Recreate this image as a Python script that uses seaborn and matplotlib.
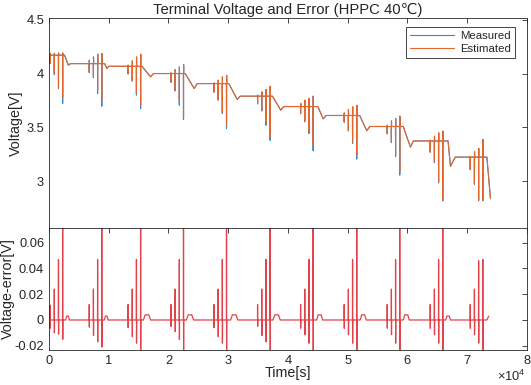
import matplotlib
matplotlib.use("Agg")
import matplotlib.pyplot as plt
import seaborn as sns
from pandas import DataFrame
from matplotlib.ticker import FuncFormatter

# ---- data (time in units of 1e4 s) ----
group_start = [0.017, 0.672, 1.322, 2.040, 2.760, 3.490, 4.210, 4.940, 5.660, 6.380, 7.050]
pulse_offset = [0.0, 0.07, 0.14, 0.21]

rest_v = [4.170, 4.092, 4.067, 4.000, 3.907, 3.790, 3.694, 3.611, 3.509, 3.375, 3.225]
top_v = [
    [4.185, 4.188, 4.190, 4.190],
    [4.123, 4.154, 4.179, 4.185],
    [4.077, 4.117, 4.154, 4.179],
    [4.006, 4.037, 4.061, 4.083],
    [3.913, 3.938, 3.969, 3.984],
    [3.800, 3.830, 3.852, 3.882],
    [3.722, 3.753, 3.769, 3.790],
    [3.635, 3.667, 3.691, 3.706],
    [3.521, 3.561, 3.583, 3.605],
    [3.382, 3.419, 3.450, 3.466],
    [3.228, 3.274, 3.306, 3.389],
]
est_bottom = [
    [4.093, 4.000, 3.876, 3.783],
    [4.015, 3.969, 3.845, 3.753],
    [4.000, 3.938, 3.815, 3.706],
    [3.922, 3.845, 3.737, 3.598],
    [3.830, 3.760, 3.645, 3.520],
    [3.722, 3.660, 3.537, 3.413],
    [3.630, 3.561, 3.459, 3.336],
    [3.552, 3.475, 3.367, 3.244],
    [3.444, 3.367, 3.244, 3.089],
    [3.274, 3.181, 2.996, 2.827],
    [3.111, 2.981, 2.827, 2.827],
]
meas_bottom = [
    [4.090, 3.990, 3.861, 3.722],
    [4.010, 3.960, 3.815, 3.697],
    [3.995, 3.930, 3.800, 3.676],
    [3.918, 3.838, 3.706, 3.574],
    [3.826, 3.752, 3.630, 3.490],
    [3.718, 3.652, 3.520, 3.380],
    [3.626, 3.553, 3.444, 3.283],
    [3.548, 3.467, 3.352, 3.207],
    [3.440, 3.359, 3.228, 3.058],
    [3.270, 3.173, 2.987, 2.820],
    [3.107, 2.973, 2.820, 2.820],
]
drop_start = [0.260, 0.930, 1.556, 2.280, 3.010, 3.740, 4.500, 5.200, 5.930, 6.680, 7.330]
dip_t = [0.325, 0.970, 1.700, 2.430, 3.150, 3.880, 4.590, 5.320, 6.050, 6.720, 7.390]
dip_v = [4.077, 4.046, 3.970, 3.861, 3.760, 3.660, 3.580, 3.470, 3.318, 3.139, 2.840]
recover_t = [0.360, 1.000, 1.750, 2.480, 3.200, 3.930, 4.640, 5.370, 6.100, 6.800, 7.390]

err_pos = [
    [0.0115, 0.024, 0.047, 0.090],
    [0.0120, 0.024, 0.047, 0.090],
    [0.0120, 0.024, 0.047, 0.090],
    [0.0120, 0.024, 0.047, 0.090],
    [0.0120, 0.024, 0.047, 0.090],
    [0.0120, 0.024, 0.047, 0.090],
    [0.0120, 0.024, 0.047, 0.090],
    [0.0120, 0.024, 0.047, 0.090],
    [0.0120, 0.024, 0.047, 0.090],
    [0.0120, 0.024, 0.047, 0.090],
    [0.0120, 0.024, 0.046, 0.047],
]
err_neg = [
    [-0.0064, -0.010, -0.011, -0.015],
    [-0.0056, -0.012, -0.017, -0.021],
    [-0.0060, -0.013, -0.018, -0.030],
    [-0.0050, -0.009, -0.015, -0.030],
    [-0.0060, -0.013, -0.018, -0.030],
    [-0.0050, -0.012, -0.017, -0.030],
    [-0.0064, -0.0115, -0.018, -0.030],
    [-0.0064, -0.0115, -0.018, -0.030],
    [-0.0064, -0.0115, -0.018, -0.030],
    [-0.0064, -0.0115, -0.018, -0.030],
    [-0.0064, -0.0115, -0.018, -0.030],
]
bump_t = [0.310, 0.958, 1.640, 2.360, 3.100, 3.810, 4.530, 5.260, 5.980, 6.680]
bump_h = [0.003, 0.003, 0.004, 0.004, 0.004, 0.004, 0.004, 0.004, 0.004, 0.003]
bump_w = [0.06, 0.06, 0.12, 0.12, 0.12, 0.12, 0.10, 0.10, 0.10, 0.08]
end_t = 7.36
end_err = 0.003

EPS = 0.0015  # pulse width on the plot (about 15 s)
SCALE = 1e4


def build_voltage(bottoms):
    t, v = [0.0], [rest_v[0]]
    for i, t0 in enumerate(group_start):
        base = rest_v[i]
        for j, off in enumerate(pulse_offset):
            tj = t0 + off
            t += [tj, tj + EPS, tj + 2 * EPS, tj + 3 * EPS]
            v += [base, bottoms[i][j], top_v[i][j], base]
        t += [drop_start[i], dip_t[i]]
        v += [base, dip_v[i]]
        if i + 1 < len(group_start):
            t.append(recover_t[i])
            v.append(rest_v[i + 1])
    return [x * SCALE for x in t], v


def build_error():
    t, e = [0.0], [0.0]
    for i, t0 in enumerate(group_start):
        for j, off in enumerate(pulse_offset):
            tj = t0 + off
            t += [tj, tj + EPS, tj + 2 * EPS, tj + 3 * EPS]
            e += [0.0, err_pos[i][j], err_neg[i][j], 0.0]
        if i < len(bump_t):
            w = bump_w[i]
            t += [bump_t[i] - w / 2, bump_t[i] - w / 4, bump_t[i] + w / 4, bump_t[i] + w / 2]
            e += [0.0, bump_h[i], bump_h[i], 0.0]
    t += [drop_start[-1], end_t]
    e += [0.0, end_err]
    return [x * SCALE for x in t], e


tm, vm = build_voltage(meas_bottom)
te, ve = build_voltage(est_bottom)
tr, er = build_error()
volt = DataFrame({"t": tm + te, "v": vm + ve,
                  "series": ["Measured"] * len(tm) + ["Estimated"] * len(te)})
err = DataFrame({"t": tr, "e": er})

sns.set_style("white")
plt.rcParams["font.family"] = ["Liberation Sans", "DejaVu Sans"]
plt.rcParams["axes.unicode_minus"] = False
plt.rcParams["mathtext.fontset"] = "custom"
plt.rcParams["mathtext.rm"] = "Liberation Sans"

fig = plt.figure(figsize=(5.31, 3.85), dpi=100)
ax1 = fig.add_axes([0.0923, 0.4078, 0.900, 0.5455])
ax2 = fig.add_axes([0.0923, 0.0909, 0.900, 0.3169])

sns.lineplot(data=volt, x="t", y="v", hue="series", sort=False, estimator=None,
             palette={"Measured": "#2f88d0", "Estimated": "#e2672f"},
             linewidth=0.8, ax=ax1)
sns.lineplot(data=err, x="t", y="e", sort=False, estimator=None,
             color="#e4424b", linewidth=0.9, ax=ax2)

fmt = FuncFormatter(lambda x, pos: f"{x:g}")
for ax in (ax1, ax2):
    ax.set_xlim(0, 8e4)
    ax.set_xticks([i * 1e4 for i in range(9)])
    ax.xaxis.set_major_formatter(FuncFormatter(lambda x, pos: f"{x / SCALE:g}"))
    ax.tick_params(direction="in", length=3.5, width=0.6, colors="#262626",
                   labelsize=9.3, top=True, right=True, pad=3.5)
    for s in ax.spines.values():
        s.set_color("#262626")
        s.set_linewidth(0.6)
    ax.yaxis.set_major_formatter(fmt)

ax1.set_ylim(2.568, 4.515)
ax1.set_yticks([3, 3.5, 4, 4.5])
ax1.tick_params(labelbottom=False)
ax1.set_xlabel("")
ax1.set_ylabel("Voltage[V]", fontsize=10.3)
ax1.yaxis.set_label_coords(-0.054, 0.5)
ax1.set_title("Terminal Voltage and Error (HPPC 40\u2103)", fontsize=10.7, pad=3)
leg = ax1.legend(loc="upper right", bbox_to_anchor=(0.975, 0.957), borderaxespad=0,
                 fancybox=False, edgecolor="#262626", framealpha=1, fontsize=8.2,
                 handlelength=3.9, borderpad=0.35, labelspacing=0.25, handletextpad=0.5)
leg.get_frame().set_linewidth(0.6)

ax2.set_ylim(-0.0233, 0.0714)
ax2.set_yticks([-0.02, 0, 0.02, 0.04, 0.06])
ax2.set_xlabel("Time[s]", fontsize=10.3)
ax2.xaxis.set_label_coords(0.5, -0.135)
ax2.set_ylabel("Voltage-error[V]", fontsize=10.3)
ax2.yaxis.set_label_coords(-0.071, 0.5)
ax2.text(0.998, -0.15, r"$\times10^{4}$", transform=ax2.transAxes,
         ha="right", va="top", fontsize=9.3, color="#262626")

fig.savefig("out.png", dpi=100)
